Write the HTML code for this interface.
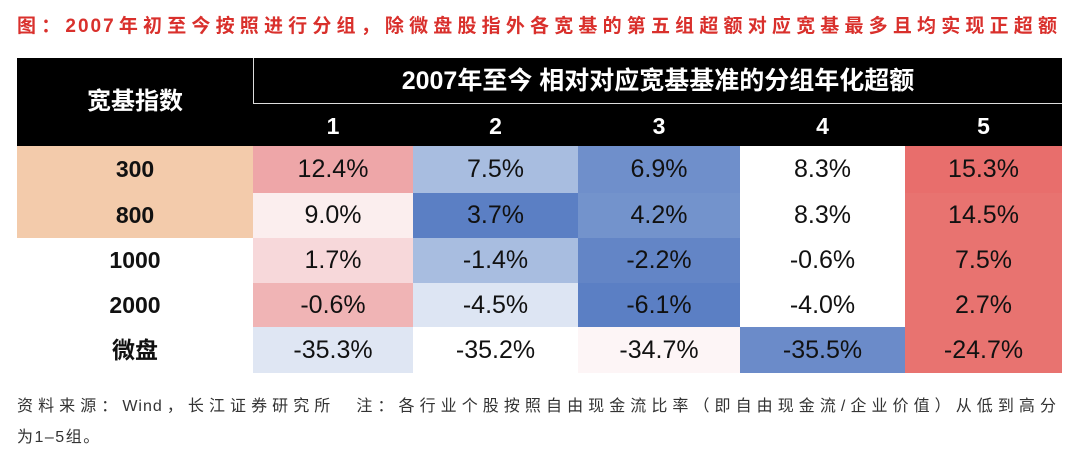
<!DOCTYPE html>
<html><head><meta charset="utf-8"><style>
body{margin:0;width:1080px;height:451px;background:#fff;position:relative;overflow:hidden;font-family:"Liberation Sans","Noto Sans CJK SC",sans-serif}
.t{position:absolute;left:17px;width:1042px;top:11px;font-size:19px;font-weight:bold;color:#d9302c;text-align:justify;text-align-last:justify;letter-spacing:2px;white-space:nowrap}
.hd{position:absolute;left:17px;top:58px;width:1045px;height:88px;background:#000}
.box{position:absolute;left:253px;top:58px;width:809px;height:46px;border-left:1px solid #ddd;border-bottom:1px solid #ddd;box-sizing:border-box;color:#fff;font-weight:bold;font-size:25px;text-align:center;line-height:46px}
.lab{position:absolute;left:17px;width:236px;color:#fff;font-weight:bold;font-size:24px;text-align:center}
.c{position:absolute;text-align:center;font-size:25px;color:#111}
.n{position:absolute;top:106px;height:40px;line-height:40px;color:#fff;font-weight:bold;font-size:23px;text-align:center}
.r{position:absolute;left:17px;width:236px;text-align:center;font-weight:bold;font-size:23px;color:#111}
.f{position:absolute;left:17px;font-size:16px;color:#333;letter-spacing:1.5px}
</style></head><body>
<div class="t">图：2007年初至今按照进行分组，除微盘股指外各宽基的第五组超额对应宽基最多且均实现正超额</div>
<div class="hd"></div>
<div class="box">2007年至今 相对对应宽基基准的分组年化超额</div>
<div class="lab" style="top:82px;line-height:40px">宽基指数</div>
<div class="n" style="left:253px;width:160px">1</div>
<div class="n" style="left:413px;width:165px">2</div>
<div class="n" style="left:578px;width:162px">3</div>
<div class="n" style="left:740px;width:165px">4</div>
<div class="n" style="left:905px;width:157px">5</div>
<div style="position:absolute;left:17px;top:146px;width:236px;height:92px;background:#f3cbab"></div>
<div id="g"></div>
<div class="f" style="top:392px;width:1040px;text-align:justify;text-align-last:justify;white-space:nowrap;letter-spacing:1px">资料来源：Wind，长江证券研究所　注：各行业个股按照自由现金流比率（即自由现金流/企业价值）从低到高分</div>
<div class="f" style="top:423px">为1–5组。</div>
<script>
var cols=[253,413,578,740,905,1062],rows=[146,193,238,283,327,373];
var labels=["300","800","1000","2000","微盘"];
var v=[["12.4%","7.5%","6.9%","8.3%","15.3%"],["9.0%","3.7%","4.2%","8.3%","14.5%"],["1.7%","-1.4%","-2.2%","-0.6%","7.5%"],["-0.6%","-4.5%","-6.1%","-4.0%","2.7%"],["-35.3%","-35.2%","-34.7%","-35.5%","-24.7%"]];
var bg=[["#eea6a8","#a8bde0","#6f8fcb","#fff","#e86e6c"],["#fbeeee","#5b7fc4","#7393cc","#fff","#e87370"],["#f7d8da","#a8bde0","#6385c6","#fff","#e87370"],["#f0b4b5","#dde5f3","#5b7fc4","#fff","#e87370"],["#dfe6f3","#fff","#fdf5f6","#6b8bc9","#e87370"]];
var h="";
for(var i=0;i<5;i++){var t=rows[i],hh=rows[i+1]-t;
h+='<div class="r" style="top:'+t+'px;height:'+hh+'px;line-height:'+hh+'px">'+labels[i]+'</div>';
for(var j=0;j<5;j++){h+='<div class="c" style="left:'+cols[j]+'px;width:'+(cols[j+1]-cols[j])+'px;top:'+t+'px;height:'+hh+'px;line-height:'+hh+'px;background:'+bg[i][j]+'">'+v[i][j]+'</div>';}}
document.getElementById("g").innerHTML=h;
</script>
</body></html>
